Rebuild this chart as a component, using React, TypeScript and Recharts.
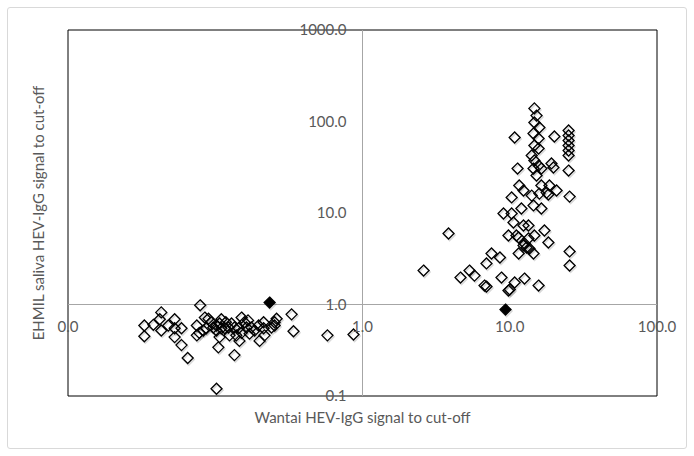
import React from 'react';
import {
  ScatterChart,
  Scatter,
  XAxis,
  YAxis,
  ReferenceLine,
  ReferenceArea,
} from 'recharts';

// Wantai S/CO (x) vs EHMIL saliva S/CO (y), samples below 1.0 on Wantai
const negX = [
  0.033, 0.033, 0.038, 0.042, 0.043, 0.043, 0.048, 0.053, 0.053, 0.059,
  0.053, 0.059, 0.065, 0.079, 0.085, 0.09, 0.075, 0.075, 0.078, 0.083,
  0.087, 0.097, 0.102, 0.107, 0.11, 0.102, 0.11, 0.116, 0.123, 0.107,
  0.105, 0.125, 0.135, 0.102, 0.129, 0.151, 0.158, 0.163, 0.135, 0.144,
  0.151, 0.139, 0.146, 0.176, 0.185, 0.197, 0.213, 0.213, 0.171, 0.2,
  0.216, 0.241, 0.253, 0.261, 0.253, 0.33, 0.34, 0.578, 0.869, 0.094,
  0.118, 0.167,
];
const negY = [
  0.59, 0.45, 0.6, 0.69, 0.82, 0.52, 0.59, 0.69, 0.55, 0.55,
  0.44, 0.36, 0.26, 0.98, 0.72, 0.7, 0.59, 0.46, 0.49, 0.52,
  0.55, 0.56, 0.59, 0.62, 0.69, 0.52, 0.55, 0.55, 0.56, 0.44,
  0.34, 0.46, 0.28, 0.12, 0.62, 0.72, 0.64, 0.56, 0.56, 0.55,
  0.49, 0.46, 0.4, 0.56, 0.52, 0.59, 0.64, 0.55, 0.48, 0.4,
  0.46, 0.56, 0.64, 0.7, 0.59, 0.78, 0.51, 0.46, 0.47, 0.64,
  0.64, 0.67,
];

// samples at or above 1.0 on Wantai
const posX = [
  3.84, 2.6, 4.63, 5.33, 5.76, 6.74, 6.95, 7.52, 8.58, 8.79,
  9.8, 10.8, 12.6, 15.7, 11.5, 12.4, 14.5, 9.8, 11.1, 12.6,
  13.4, 14.7, 10.6, 12.4, 13.4, 17.2, 18.3, 25.5, 25.5, 10.3,
  12.0, 9.07, 10.3, 14.5, 16.4, 14.1, 15.9, 18.3, 25.5, 11.5,
  6.95, 10.0, 13.0, 13.6, 12.4, 11.6, 16.4, 18.6, 17.8, 20.8,
  14.7, 15.2, 14.7, 15.9, 14.5, 15.7, 14.7, 15.7, 10.8, 20.1,
  25.1, 25.1, 25.1, 25.1, 25.1, 25.1, 14.1, 14.7, 15.7, 16.4,
  14.5, 15.2, 19.2, 19.8, 11.3, 25.1,
];
const posY = [
  5.97, 2.35, 1.97, 2.35, 2.07, 1.61, 2.81, 3.61, 3.26, 1.97,
  1.42, 1.74, 1.92, 1.61, 3.61, 4.42, 3.61, 5.68, 5.68, 4.64,
  5.26, 5.68, 7.87, 7.3, 7.3, 6.44, 4.76, 3.8, 2.67, 14.8,
  11.2, 9.87, 9.87, 12.1, 11.2, 15.5, 16.3, 15.9, 15.1, 5.4,
  1.57, 1.46, 4.2, 4.09, 17.6, 20.0, 20.0, 20.0, 16.7, 17.6,
  139, 116, 97.5, 86, 73.9, 65.2, 54.7, 50.7, 66.8, 68.6,
  79.8, 70.3, 62, 54.7, 48.2, 42.5, 42.5, 37.5, 33.0, 30.6,
  30.6, 25.7, 34.8, 31.4, 30.6, 29.1,
];

// discordant samples, filled markers
const discX = [0.234, 9.36];
const discY = [1.05, 0.88];

const xTicks = [0.01, 1, 10, 100];
const yTicks = [0.1, 1, 10, 100, 1000];

const W = 694;
const H = 456;
const M = { top: 30, right: 37, bottom: 59, left: 67 };
const X_DOMAIN = [0.01, 100];
const Y_DOMAIN = [0.1, 1000];

const plotLeft = M.left + 1;
const plotTop = M.top;
const plotW = W - M.right - plotLeft;
const plotH = H - M.bottom - 1 - plotTop;
// where the axes cross (value 1.0 on both)
const crossX = plotLeft + plotW * (0 - Math.log10(X_DOMAIN[0])) / (Math.log10(X_DOMAIN[1]) - Math.log10(X_DOMAIN[0]));
const crossY = plotTop + plotH * (Math.log10(Y_DOMAIN[1]) - 0) / (Math.log10(Y_DOMAIN[1]) - Math.log10(Y_DOMAIN[0]));

const FONT = 'Lato, "Open Sans", sans-serif';
const TEXT = '#595959';

const zip = (xs: number[], ys: number[]) => xs.map((x, i) => ({ x, y: ys[i] }));

const Diamond = (filled: boolean) => (props: any) => {
  const { cx, cy } = props;
  if (cx == null || cy == null) return null;
  const r = 5.5;
  const d = `M${cx},${cy - r} L${cx + r},${cy} L${cx},${cy + r} L${cx - r},${cy} Z`;
  const ds = `M${cx + 1},${cy - r + 1.5} L${cx + r + 1},${cy + 1.5} L${cx + 1},${cy + r + 1.5} L${cx - r + 1},${cy + 1.5} Z`;
  return (
    <g>
      <path d={ds} fill="none" stroke="#000" strokeOpacity={0.15} strokeWidth={1.6} />
      <path d={d} fill={filled ? '#000' : '#fff'} fillOpacity={filled ? 1 : 0} stroke="#000" strokeWidth={1.3} />
    </g>
  );
};

const renderXTick = (props: any) => {
  const { x, payload } = props;
  return (
    <text key={`xt-${payload.value}`} x={x} y={crossY + 27} textAnchor="middle" fontSize={15} fill={TEXT} fontFamily={FONT}>
      {Number(payload.value).toFixed(1)}
    </text>
  );
};

const renderYTick = (props: any) => {
  const { y, payload } = props;
  return (
    <text key={`yt-${payload.value}`} x={crossX - 16} y={y + 5} textAnchor="end" fontSize={15} fill={TEXT} fontFamily={FONT}>
      {Number(payload.value).toFixed(1)}
    </text>
  );
};

export default function App() {
  return (
    <div style={{ position: 'absolute', left: 0, top: 0, width: W, height: H, background: '#fff' }}>
      <div
        style={{
          position: 'absolute',
          left: 7,
          top: 7,
          width: 678,
          height: 440,
          border: '1px solid #d9d9d9',
          borderRadius: 3,
        }}
      />
      <ScatterChart width={W} height={H} margin={M} style={{ position: 'absolute', left: 0, top: 0 }}>
        <XAxis
          type="number"
          dataKey="x"
          scale="log"
          domain={X_DOMAIN}
          ticks={xTicks}
          allowDataOverflow
          height={1}
          axisLine={false}
          tickLine={false}
          tick={renderXTick}
          interval={0}
        />
        <YAxis
          type="number"
          dataKey="y"
          scale="log"
          domain={Y_DOMAIN}
          ticks={yTicks}
          allowDataOverflow
          width={1}
          axisLine={false}
          tickLine={false}
          tick={renderYTick}
          interval={0}
        />
        <ReferenceArea
          x1={X_DOMAIN[0]}
          x2={X_DOMAIN[1]}
          y1={Y_DOMAIN[0]}
          y2={Y_DOMAIN[1]}
          fill="none"
          stroke="#000"
          strokeWidth={1}
          ifOverflow="visible"
        />
        <ReferenceLine x={1} stroke="#a6a6a6" strokeWidth={1} />
        <ReferenceLine y={1} stroke="#a6a6a6" strokeWidth={1} />
        <Scatter data={zip(negX, negY)} shape={Diamond(false)} isAnimationActive={false} />
        <Scatter data={zip(posX, posY)} shape={Diamond(false)} isAnimationActive={false} />
        <Scatter data={zip(discX, discY)} shape={Diamond(true)} isAnimationActive={false} />
      </ScatterChart>
      <div
        style={{
          position: 'absolute',
          left: crossX - 200,
          width: 400,
          top: 408,
          textAlign: 'center',
          fontFamily: FONT,
          fontSize: 15,
          color: TEXT,
        }}
      >
        Wantai HEV-IgG signal to cut-off
      </div>
      <div
        style={{
          position: 'absolute',
          left: 38,
          top: plotTop + plotH / 2,
          transform: 'translate(-50%, -50%) rotate(-90deg)',
          whiteSpace: 'nowrap',
          fontFamily: FONT,
          fontSize: 15,
          color: TEXT,
        }}
      >
        EHMIL saliva HEV-IgG signal to cut-off
      </div>
    </div>
  );
}
